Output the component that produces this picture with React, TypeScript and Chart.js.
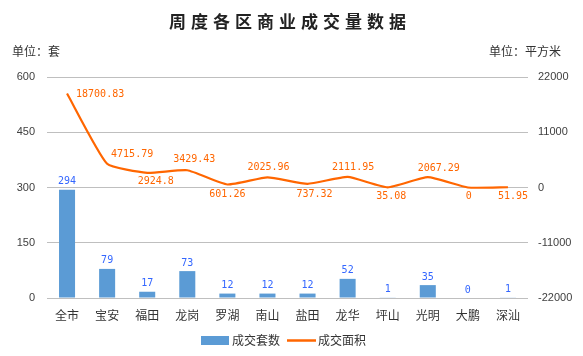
import React, { useEffect, useRef } from "react";
import { Chart, registerables } from "chart.js";

Chart.register(...registerables);

const TITLE = "周度各区商业成交量数据";
const LEFT_UNIT = "单位：套";
const RIGHT_UNIT = "单位：平方米";
const categories = ["全市", "宝安", "福田", "龙岗", "罗湖", "南山", "盐田", "龙华", "坪山", "光明", "大鹏", "深汕"];
const unitCounts = [294, 79, 17, 73, 12, 12, 12, 52, 1, 35, 0, 1];
const areaValues = [18700.83, 4715.79, 2924.8, 3429.43, 601.26, 2025.96, 737.32, 2111.95, 35.08, 2067.29, 0, 51.95];
const areaLabels = ["18700.83", "4715.79", "2924.8", "3429.43", "601.26", "2025.96", "737.32", "2111.95", "35.08", "2067.29", "0", "51.95"];
const leftTicks = [0, 150, 300, 450, 600];
const rightTicks = [-22000, -11000, 0, 11000, 22000];
const seriesNames = ["成交套数", "成交面积"];

// label placement style (pixel offsets relative to the point)
const LINE_LABEL_OFFSETS: [number, number, CanvasTextAlign][] = [
  [9, 1, "left"],
  [25, -9, "center"],
  [8.5, 9, "center"],
  [7, -10.5, "center"],
  [0, 10, "center"],
  [1, -9.5, "center"],
  [7, 10.5, "center"],
  [5.5, -9, "center"],
  [3.5, 9, "center"],
  [11, -9, "center"],
  [1, 9, "center"],
  [5, 9, "center"],
];

const BAR_COLOR = "#5B9BD5";
const LINE_COLOR = "#FF6600";
const BAR_LABEL_COLOR = "#3366FF";
const TEXT_COLOR = "#333333";
const CJK = '"Noto Sans CJK SC", "Noto Sans", sans-serif';
const NUM_FONT = '10px "DejaVu Sans Mono", monospace';

const decorPlugin = {
  id: "decor",
  afterDatasetsDraw(chart: any) {
    const ctx = chart.ctx as CanvasRenderingContext2D;
    ctx.save();
    ctx.font = NUM_FONT;
    ctx.textBaseline = "middle";
    const barMeta = chart.getDatasetMeta(0);
    ctx.fillStyle = BAR_LABEL_COLOR;
    ctx.textAlign = "center";
    barMeta.data.forEach((el: any, i: number) => {
      ctx.fillText(String(unitCounts[i]), el.x, el.y - 8);
    });
    const lineMeta = chart.getDatasetMeta(1);
    ctx.fillStyle = LINE_COLOR;
    lineMeta.data.forEach((el: any, i: number) => {
      const [dx, dy, align] = LINE_LABEL_OFFSETS[i];
      ctx.textAlign = align;
      ctx.fillText(areaLabels[i], el.x + dx, el.y + dy);
    });
    ctx.restore();
  },
  afterDraw(chart: any) {
    const ctx = chart.ctx as CanvasRenderingContext2D;
    const { chartArea, width } = chart;
    ctx.save();
    ctx.fillStyle = "#222222";
    ctx.font = `bold 17px ${CJK}`;
    ctx.textBaseline = "middle";
    ctx.textAlign = "left";
    (ctx as any).letterSpacing = "5px";
    const tw = ctx.measureText(TITLE).width - 5;
    ctx.fillText(TITLE, (chartArea.left + chartArea.right) / 2 - tw / 2, 22);
    (ctx as any).letterSpacing = "0px";
    ctx.font = `12px ${CJK}`;
    ctx.fillStyle = TEXT_COLOR;
    ctx.textAlign = "left";
    ctx.fillText(LEFT_UNIT, 12, 51);
    ctx.textAlign = "right";
    ctx.fillText(RIGHT_UNIT, width - 22, 51);
    const ly = 340.5;
    ctx.fillStyle = BAR_COLOR;
    ctx.fillRect(201, ly - 4.5, 28, 9);
    ctx.fillStyle = TEXT_COLOR;
    ctx.textAlign = "left";
    ctx.font = `12px ${CJK}`;
    ctx.fillText(seriesNames[0], 232, ly);
    ctx.strokeStyle = LINE_COLOR;
    ctx.lineWidth = 2.5;
    ctx.beginPath();
    ctx.moveTo(287, ly);
    ctx.lineTo(316, ly);
    ctx.stroke();
    ctx.fillText(seriesNames[1], 318, ly);
    ctx.restore();
  },
};

export default function App() {
  const ref = useRef<HTMLCanvasElement | null>(null);
  useEffect(() => {
    if (!ref.current) return;
    const chart = new Chart(ref.current, {
      type: "bar",
      data: {
        labels: categories,
        datasets: [
          {
            type: "bar",
            label: seriesNames[0],
            data: unitCounts,
            backgroundColor: BAR_COLOR,
            yAxisID: "y",
            barPercentage: 0.4,
            categoryPercentage: 1,
            order: 2,
          },
          {
            type: "line",
            label: seriesNames[1],
            data: areaValues,
            borderColor: LINE_COLOR,
            backgroundColor: LINE_COLOR,
            borderWidth: 2.2,
            pointRadius: 0,
            tension: 0.15,
            yAxisID: "y1",
            order: 1,
          },
        ],
      },
      options: {
        responsive: false,
        animation: false,
        layout: { padding: { top: 77, left: 0, right: 0, bottom: 0 } },
        plugins: { legend: { display: false }, title: { display: false }, tooltip: { enabled: false } },
        scales: {
          x: {
            grid: { display: false, drawTicks: false },
            border: { display: false },
            ticks: {
              padding: 10,
              color: TEXT_COLOR,
              font: { family: CJK, size: 12 },
              maxRotation: 0,
              autoSkip: false,
            },
            afterFit(scale: any) {
              scale.height = 58;
            },
          },
          y: {
            position: "left",
            min: 0,
            max: 600,
            afterBuildTicks(scale: any) {
              scale.ticks = leftTicks.map((v) => ({ value: v }));
            },
            grid: { color: "#BFBFBF", lineWidth: 1, drawTicks: false },
            border: { display: false },
            ticks: {
              padding: 12,
              color: "#404040",
              font: { family: '"Liberation Sans", Arial, sans-serif', size: 11 },
              callback: (v: any) => String(v),
            },
            afterFit(scale: any) {
              scale.width = 47;
            },
          },
          y1: {
            position: "right",
            min: -22000,
            max: 22000,
            afterBuildTicks(scale: any) {
              scale.ticks = rightTicks.map((v) => ({ value: v }));
            },
            grid: { drawOnChartArea: false, drawTicks: false },
            border: { display: false },
            ticks: {
              padding: 10,
              color: "#404040",
              font: { family: '"Liberation Sans", Arial, sans-serif', size: 11 },
              callback: (v: any) => String(v),
            },
            afterFit(scale: any) {
              scale.width = 55;
            },
          },
        },
      },
      plugins: [decorPlugin],
    } as any);
    return () => chart.destroy();
  }, []);
  return (
    <div style={{ position: "fixed", left: 0, top: 0, width: 583, height: 356, background: "#fff" }}>
      <canvas ref={ref} width={583} height={356} />
    </div>
  );
}
